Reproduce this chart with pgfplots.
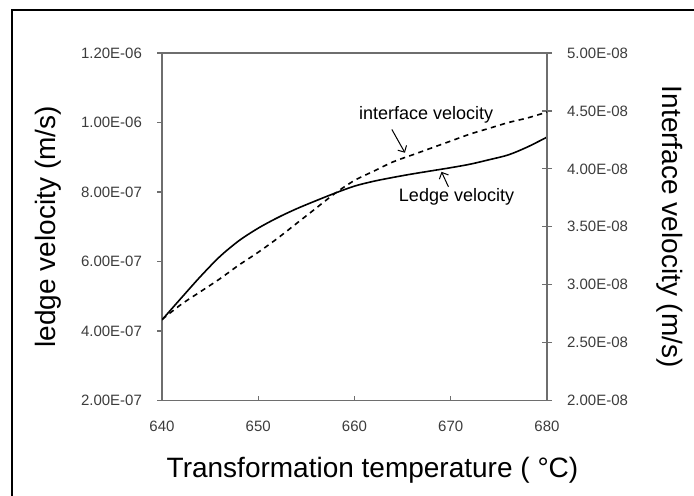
\documentclass[border=0pt]{standalone}
\usepackage{fontspec}
\setmainfont{Liberation Sans}
\usepackage{pgfplots}
\pgfplotsset{compat=1.18}
\usetikzlibrary{arrows.meta}

\definecolor{axgray}{HTML}{6E6E6E}
\definecolor{ticktext}{HTML}{3C3C3C}

% ledge velocity (m/s), left axis
\pgfplotstableread{
T v
640 4.32e-7
642 4.95e-7
644 5.57e-7
646 6.14e-7
648 6.60e-7
650 6.96e-7
652 7.26e-7
654 7.52e-7
656 7.75e-7
658 7.97e-7
660 8.17e-7
662 8.31e-7
664 8.42e-7
666 8.52e-7
668 8.61e-7
670 8.70e-7
672 8.80e-7
674 8.93e-7
676 9.07e-7
678 9.30e-7
680 9.58e-7
}\ledge

% interface velocity (m/s), right axis
\pgfplotstableread{
T v
640 2.70e-8
642 2.83e-8
644 2.94e-8
646 3.05e-8
648 3.17e-8
650 3.28e-8
652 3.40e-8
654 3.53e-8
656 3.66e-8
658 3.79e-8
660 3.90e-8
662 3.98e-8
664 4.06e-8
666 4.12e-8
668 4.18e-8
670 4.24e-8
672 4.30e-8
674 4.35e-8
676 4.40e-8
678 4.44e-8
680 4.49e-8
}\iface

\pgfplotsset{
  common/.style={
    scale only axis,
    width=192.5pt, height=173.75pt,
    xmin=640, xmax=680,
    axis line style={axgray, line width=0.6pt},
    major tick length=2.5pt,
    tick style={axgray, line width=0.6pt},
    tick label style={font=\fontsize{7.5}{9}\selectfont, text=ticktext},
    scaled y ticks=false,
  }
}

\begin{document}
\begin{tikzpicture}
\useasboundingbox (-81pt,-47.25pt) rectangle (266pt,200.25pt);
\draw[line width=1pt] (-75pt,-60pt) -- (-75pt,195.25pt) -- (280pt,195.25pt);

\begin{axis}[common,
    name=ax1,
    ymin=2e-7, ymax=1.2e-6,
    xtick={640,650,660,670,680},
    xticklabels={640,650,660,670,680},
    xtick pos=bottom,
    ytick pos=left,
    tick align=outside,
    x tick style={yshift=2.5pt},
    ytick={2e-7,4e-7,6e-7,8e-7,1e-6,1.2e-6},
    yticklabels={2.00E-07,4.00E-07,6.00E-07,8.00E-07,1.00E-06,1.20E-06},
    xticklabel style={yshift=-4pt},
    yticklabel style={xshift=-4pt},
    xlabel={Transformation temperature ( °C)},
    xlabel style={font=\fontsize{14}{16}\selectfont, yshift=-6pt, xshift=9pt},
  ]
  \addplot[black, line width=0.8pt, smooth] table[x=T, y=v] {\ledge};
  \node[font=\fontsize{9}{11}\selectfont] at (rel axis cs:0.686,0.822) {interface velocity};
  \draw[-{Straight Barb[length=2.5pt]}, line width=0.5pt] (rel axis cs:0.597,0.780) -- (rel axis cs:0.631,0.713);
  \node[font=\fontsize{9}{11}\selectfont] at (rel axis cs:0.765,0.586) {Ledge velocity};
  \draw[-{Straight Barb[length=2.5pt]}, line width=0.5pt] (rel axis cs:0.744,0.615) -- (rel axis cs:0.726,0.658);
\end{axis}

\begin{axis}[common,
    axis x line=none,
    axis y line*=right,
    ymin=2e-8, ymax=5e-8,
    tick align=center,
    major tick length=5pt,
    ytick={2e-8,2.5e-8,3e-8,3.5e-8,4e-8,4.5e-8,5e-8},
    yticklabels={2.00E-08,2.50E-08,3.00E-08,3.50E-08,4.00E-08,4.50E-08,5.00E-08},
    yticklabel style={xshift=4pt},
  ]
  \addplot[black, line width=0.8pt, smooth, dash pattern=on 2.6pt off 2.2pt] table[x=T, y=v] {\iface};
\end{axis}

\node[font=\fontsize{14}{16}\selectfont, rotate=90] at ([xshift=-57pt]ax1.west) {ledge velocity (m/s)};
\node[font=\fontsize{14}{16}\selectfont, rotate=-90] at ([xshift=61.5pt]ax1.east) {Interface velocity (m/s)};
\end{tikzpicture}
\end{document}
